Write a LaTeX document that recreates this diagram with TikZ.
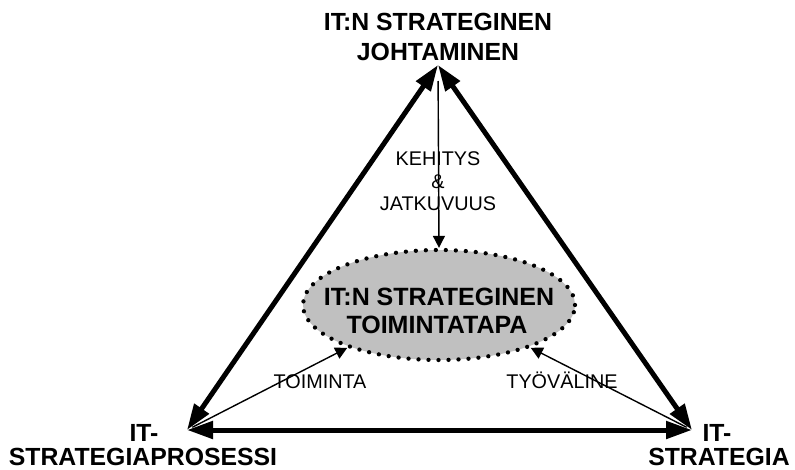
\documentclass[tikz,border=0pt]{standalone}
\usepackage{fontspec}
\setmainfont{Liberation Sans}
\usetikzlibrary{arrows.meta,shapes.geometric}
\definecolor{coregray}{HTML}{C0C0C0}
\tikzset{
  bigtip/.tip={Triangle[length=26pt,width=17pt]},
  smalltip/.tip={Triangle[length=12pt,width=12pt]},
  edge/.style={line width=5pt, bigtip-bigtip},
  link/.style={line width=1.4pt, -smalltip},
  boldtxt/.style={font=\fontsize{24.8}{28}\selectfont\bfseries, inner sep=0pt, anchor=base},
  coretxt/.style={font=\fontsize{25}{28}\selectfont\bfseries, inner sep=0pt, anchor=base},
  plaintxt/.style={font=\fontsize{19.8}{22}\selectfont, inner sep=0pt, anchor=base},
  core/.style={ellipse, fill=coregray, draw=black, line width=4.3pt,
    dash pattern=on 0pt off 10pt, line cap=round,
    minimum width=272pt, minimum height=110pt, inner sep=0pt}
}
\begin{document}
\begin{tikzpicture}[x=1pt,y=-1pt]
\useasboundingbox (0,0) rectangle (795,469);

% corners of the triangle
\coordinate (apex) at (438,65);
\coordinate (bl) at (187,430);
\coordinate (br) at (692,430);

% central ellipse and its caption
\node[core] (core) at (439,305) {};
\node[coretxt] (c1) at (439,305) {IT:N STRATEGINEN};
\node[coretxt] (c2) at (437,333) {TOIMINTATAPA};

% triangle edges
\draw[edge] (bl) -- (apex);
\draw[edge] (apex) -- (br);
\draw[edge] (bl) -- (br);

% links from the corners to the ellipse
\draw[link, shorten <=16pt] (apex) -- (core.north);
\draw[link, shorten <=6pt] (bl) -- (core.205);
\draw[link, shorten <=6pt] (br) -- (core.-25);

% corner titles
\node[boldtxt] (t1) at (438,30) {IT:N STRATEGINEN};
\node[boldtxt] (t2) at (438,60) {JOHTAMINEN};
\node[boldtxt] (l1) at (144,441) {IT-};
\node[boldtxt] (l2) at (143,465) {STRATEGIAPROSESSI};
\node[boldtxt] (r1) at (717,441) {IT-};
\node[boldtxt] (r2) at (719,465) {STRATEGIA};

% link labels
\node[plaintxt] (k1) at (438,165) {KEHITYS};
\node[plaintxt] (k2) at (438,188) {\&};
\node[plaintxt] (k3) at (438,210) {JATKUVUUS};
\node[plaintxt] (toim) at (320,388) {TOIMINTA};
\node[plaintxt] (tyo) at (562,388) {TYÖVÄLINE};
\end{tikzpicture}
\end{document}
